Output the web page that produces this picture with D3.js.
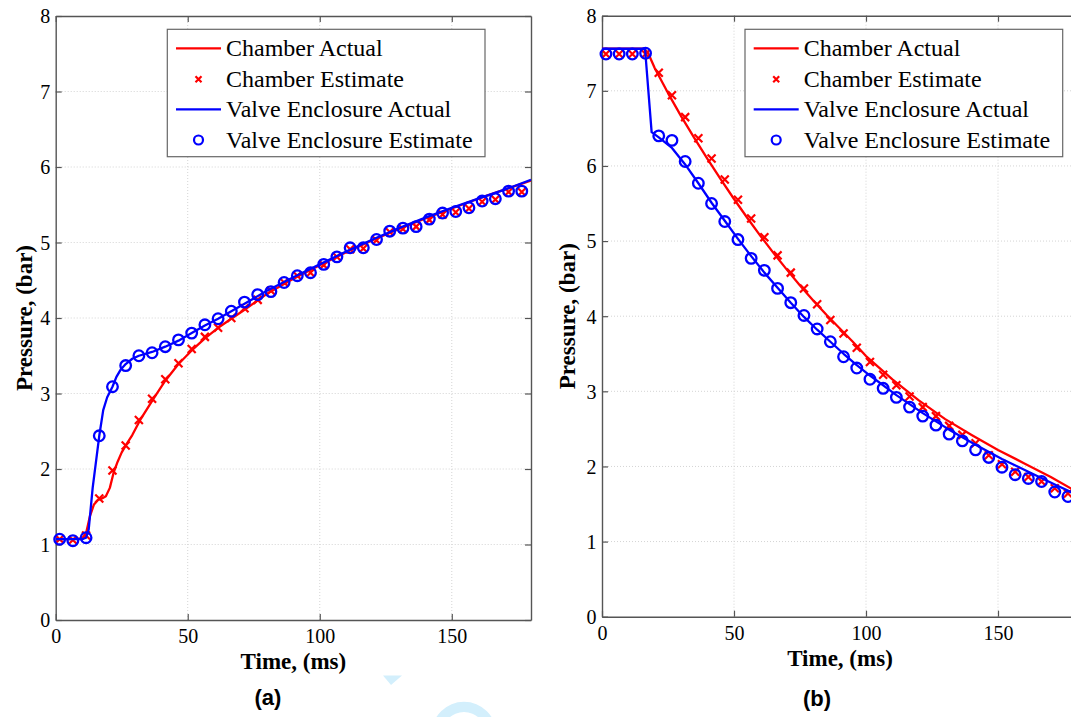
<!DOCTYPE html>
<html>
<head>
<meta charset="utf-8">
<script src="https://cdn.jsdelivr.net/npm/d3@7"></script>
<style>
  html, body { margin: 0; padding: 0; background: #fff; }
  svg { display: block; }
</style>
</head>
<body>
<svg id="fig" width="1071" height="717"></svg>
<script>
// Sample instants of the estimator output (ms)
const estTime = [1.5, 6.5, 11.5, 16.5, 21.5, 26.5, 31.5, 36.5, 41.5, 46.5, 51.5, 56.5,
  61.5, 66.5, 71.5, 76.5, 81.5, 86.5, 91.5, 96.5, 101.5, 106.5, 111.5, 116.5,
  121.5, 126.5, 131.5, 136.5, 141.5, 146.5, 151.5, 156.5, 161.5, 166.5, 171.5, 176.5];

// (a) filling
const chamberEstA = [1.07, 1.06, 1.12, 1.61, 1.98, 2.31, 2.65, 2.93, 3.19, 3.40, 3.59, 3.75,
  3.87, 4.00, 4.13, 4.24, 4.36, 4.47, 4.56, 4.60, 4.70, 4.81, 4.91, 4.92,
  5.03, 5.14, 5.18, 5.21, 5.30, 5.37, 5.40, 5.45, 5.54, 5.57, 5.67, 5.67];
const valveEstA = [1.07, 1.05, 1.09, 2.44, 3.09, 3.37, 3.50, 3.54, 3.62, 3.71, 3.80, 3.91,
  3.99, 4.09, 4.21, 4.31, 4.35, 4.47, 4.56, 4.60, 4.71, 4.81, 4.93, 4.93,
  5.04, 5.15, 5.19, 5.21, 5.31, 5.39, 5.41, 5.46, 5.55, 5.58, 5.68, 5.68];
const chamberActTimeA = [0, 5, 10, 11.5, 13, 14.5, 16, 17.5, 19, 20.5, 22, 23.5, 25, 27, 29, 32, 37,
  41.5, 46.5, 51.5, 56.5, 61.5, 66.5, 71.5, 80, 90, 100, 110, 120, 130, 140, 150, 160, 170, 180];
const chamberActA = [1.07, 1.07, 1.08, 1.15, 1.38, 1.53, 1.59, 1.61, 1.64, 1.75, 1.96, 2.10, 2.22, 2.34, 2.45, 2.65, 2.93,
  3.17, 3.39, 3.57, 3.73, 3.87, 3.99, 4.11, 4.32, 4.52, 4.70, 4.87, 5.03, 5.18, 5.32, 5.45, 5.58, 5.70, 5.82];
const valveActTimeA = [0, 5, 10, 11.5, 12.5, 14, 16.5, 18, 19.5, 21.5, 23, 24.5, 26.5, 29, 31.5, 36.5,
  41.5, 46.5, 51.5, 56.5, 61.5, 66.5, 71.5, 80, 90, 100, 110, 120, 130, 140, 150, 160, 170, 180];
const valveActA = [1.07, 1.07, 1.07, 1.09, 1.20, 1.75, 2.44, 2.78, 2.95, 3.09, 3.22, 3.31, 3.39, 3.46, 3.50, 3.55,
  3.62, 3.70, 3.80, 3.90, 3.99, 4.09, 4.19, 4.36, 4.54, 4.71, 4.88, 5.04, 5.19, 5.33, 5.46, 5.58, 5.70, 5.83];

// (b) venting
const chamberEstB = [7.49, 7.49, 7.49, 7.49, 7.24, 6.94, 6.65, 6.37, 6.10, 5.82, 5.55, 5.30,
  5.05, 4.81, 4.58, 4.37, 4.16, 3.95, 3.77, 3.58, 3.39, 3.22, 3.08, 2.93,
  2.79, 2.67, 2.54, 2.42, 2.31, 2.15, 2.03, 1.93, 1.86, 1.80, 1.71, 1.64];
const valveEstB = [7.49, 7.49, 7.49, 7.50, 6.40, 6.34, 6.06, 5.77, 5.50, 5.26, 5.02, 4.77,
  4.61, 4.37, 4.18, 4.01, 3.83, 3.66, 3.46, 3.31, 3.16, 3.04, 2.92, 2.79,
  2.67, 2.55, 2.43, 2.34, 2.22, 2.12, 1.99, 1.89, 1.84, 1.80, 1.66, 1.60];
const chamberActTimeB = [0, 10, 16, 17.5, 20, 25, 30, 35, 40, 45, 50, 55, 60, 65, 70, 75, 80, 85, 90, 95,
  100, 110, 120, 130, 140, 150, 160, 170, 180];
const chamberActB = [7.56, 7.56, 7.56, 7.50, 7.30, 6.97, 6.66, 6.37, 6.09, 5.82, 5.56, 5.31, 5.07, 4.84, 4.62, 4.41, 4.21, 4.02, 3.84, 3.66,
  3.47, 3.16, 2.88, 2.63, 2.42, 2.22, 2.04, 1.86, 1.66];
const valveActTimeB = [0, 10, 16.3, 18.8, 21.5, 26.5, 31.5, 36.5, 41.5, 46.5, 51.5, 56.5, 61.5, 66.5, 71.5, 76.5,
  81.5, 86.5, 91.5, 96.5, 101.5, 111.5, 121.5, 131.5, 141.5, 151.5, 161.5, 171.5, 180];
const valveActB = [7.56, 7.56, 7.56, 6.45, 6.38, 6.24, 6.02, 5.77, 5.51, 5.27, 5.03, 4.80, 4.58, 4.38, 4.18, 3.99,
  3.82, 3.66, 3.50, 3.35, 3.21, 2.95, 2.71, 2.49, 2.29, 2.10, 1.93, 1.76, 1.62];

const xTicks = [0, 50, 100, 150];
const yTicks = [0, 1, 2, 3, 4, 5, 6, 7, 8];
const legendLabels = ["Chamber Actual", "Chamber Estimate", "Valve Enclosure Actual", "Valve Enclosure Estimate"];
const xTitle = "Time, (ms)";
const yTitle = "Pressure, (bar)";
const panelLabels = ["(a)", "(b)"];

const RED = "#ff0000", BLUE = "#0000ff", FRAME = "#555555";
const SERIF = "'Liberation Serif', 'Times New Roman', serif";
const svg = d3.select("#fig");

// Faint watermark fragments behind the figure
const wm = svg.append("g").attr("fill", "#d3effc");
svg.append("clipPath").attr("id", "wmclip").append("rect")
  .attr("x", 360).attr("y", 675.5).attr("width", 200).attr("height", 60);
wm.append("path").attr("clip-path", "url(#wmclip)")
  .attr("transform", "translate(448.5,657.7)")
  .attr("d", d3.arc().innerRadius(22).outerRadius(29.6).startAngle(0).endAngle(2 * Math.PI)());
wm.append("path").attr("d", "M383,675.5 L402,675.5 L391,685 Z");
wm.append("path")
  .attr("transform", "translate(464,734.1)")
  .attr("d", d3.arc().innerRadius(22.1).outerRadius(32.4).startAngle(-Math.PI / 2).endAngle(Math.PI / 2)());

function crossPath(s) {
  return `M${-s},${-s}L${s},${s}M${-s},${s}L${s},${-s}`;
}

function panel(cfg) {
  const { x0, x1, y0, y1, xDomain, id } = cfg;
  const x = d3.scaleLinear().domain(xDomain).range([x0, x1]);
  const y = d3.scaleLinear().domain([0, 8]).range([y0, y1]);
  const g = svg.append("g");

  g.append("rect").attr("x", x0).attr("y", y1).attr("width", x1 - x0).attr("height", y0 - y1).attr("fill", "#fff");

  // dotted grid
  const grid = g.append("g").attr("stroke", "#d4d4d4").attr("stroke-width", 1).attr("stroke-dasharray", "1,2");
  grid.selectAll("line.gx").data(xTicks.filter(v => v > 0)).join("line")
    .attr("x1", d => x(d)).attr("x2", d => x(d)).attr("y1", y0).attr("y2", y1);
  grid.selectAll("line.gy").data(yTicks.filter(v => v > 0 && v < 8)).join("line")
    .attr("x1", x0).attr("x2", x1).attr("y1", d => y(d)).attr("y2", d => y(d));

  // axes with inward ticks on all four sides
  const tk = 6;
  const bottom = g.append("g").attr("transform", `translate(0,${y0})`)
    .call(d3.axisBottom(x).tickValues(xTicks).tickSizeInner(-tk).tickSizeOuter(0));
  const top = g.append("g").attr("transform", `translate(0,${y1})`)
    .call(d3.axisTop(x).tickValues(xTicks).tickSizeInner(-tk).tickSizeOuter(0).tickFormat(""));
  const left = g.append("g").attr("transform", `translate(${x0},0)`)
    .call(d3.axisLeft(y).tickValues(yTicks).tickSizeInner(-tk).tickSizeOuter(0));
  const right = g.append("g").attr("transform", `translate(${x1},0)`)
    .call(d3.axisRight(y).tickValues(yTicks).tickSizeInner(-tk).tickSizeOuter(0).tickFormat(""));
  [bottom, top, left, right].forEach(a => {
    a.select(".domain").attr("stroke", FRAME).attr("stroke-width", 1.4);
    a.selectAll(".tick line").attr("stroke", FRAME).attr("stroke-width", 1.2);
    a.attr("font-family", SERIF).attr("font-size", 20);
    a.selectAll(".tick text").attr("font-family", SERIF).attr("font-size", 20).attr("fill", "#000");
  });
  bottom.selectAll(".tick text").attr("y", 23).attr("dy", null);
  left.selectAll(".tick text").attr("x", -5.5).attr("dy", "0.34em");

  // data
  const clipId = "clip" + id;
  svg.append("clipPath").attr("id", clipId).append("rect")
    .attr("x", x0).attr("y", y1).attr("width", x1 - x0).attr("height", y0 - y1);
  const line = d3.line().x(d => x(d[0])).y(d => y(d[1]));
  const data = g.append("g");
  data.append("path").datum(d3.zip(cfg.chamberActTime, cfg.chamberAct))
    .attr("clip-path", `url(#${clipId})`)
    .attr("d", line).attr("fill", "none").attr("stroke", RED).attr("stroke-width", 2.3).attr("stroke-linejoin", "round");
  data.selectAll("path.cx").data(d3.zip(estTime, cfg.chamberEst)).join("path")
    .attr("class", "cx")
    .attr("transform", d => `translate(${x(d[0])},${y(d[1])})`)
    .attr("d", crossPath(4)).attr("stroke", RED).attr("stroke-width", 2.2).attr("fill", "none");
  data.append("path").datum(d3.zip(cfg.valveActTime, cfg.valveAct))
    .attr("clip-path", `url(#${clipId})`)
    .attr("d", line).attr("fill", "none").attr("stroke", BLUE).attr("stroke-width", 2.3).attr("stroke-linejoin", "round");
  data.selectAll("circle").data(d3.zip(estTime, cfg.valveEst)).join("circle")
    .attr("cx", d => x(d[0])).attr("cy", d => y(d[1])).attr("r", 5.3)
    .attr("fill", "none").attr("stroke", BLUE).attr("stroke-width", 2.3);

  // axis titles
  g.append("text").attr("x", cfg.xTitleX).attr("y", cfg.xTitleY).attr("text-anchor", "middle")
    .attr("font-family", SERIF).attr("font-weight", "bold").attr("font-size", 23)
    .text(xTitle);
  g.append("text").attr("transform", `translate(${cfg.yTitleX},${(y0 + y1) / 2}) rotate(-90)`)
    .attr("text-anchor", "middle").attr("dy", "0.35em")
    .attr("font-family", SERIF).attr("font-weight", "bold").attr("font-size", 23)
    .text(yTitle);

  // legend
  const L = cfg.legend;
  const lg = g.append("g");
  lg.append("rect").attr("x", L.x).attr("y", L.y).attr("width", 317.7).attr("height", 127.4)
    .attr("fill", "#fff").attr("stroke", "#666").attr("stroke-width", 1.2);
  const rows = [19, 50, 80, 110.7];
  const kinds = ["rline", "cross", "bline", "circle"];
  kinds.forEach((k, i) => {
    const cy = L.y + rows[i];
    const sx0 = L.x + 8.7, sx1 = L.x + 53.7, mx = (sx0 + sx1) / 2;
    if (k === "rline" || k === "bline") {
      lg.append("line").attr("x1", sx0).attr("x2", sx1).attr("y1", cy).attr("y2", cy)
        .attr("stroke", k === "rline" ? RED : BLUE).attr("stroke-width", 2.3);
    } else if (k === "cross") {
      lg.append("path").attr("transform", `translate(${mx},${cy})`).attr("d", crossPath(3))
        .attr("stroke", RED).attr("stroke-width", 2.2);
    } else {
      lg.append("circle").attr("cx", mx).attr("cy", cy).attr("r", 4.5)
        .attr("fill", "none").attr("stroke", BLUE).attr("stroke-width", 2.2);
    }
    lg.append("text").attr("x", L.x + 58.7).attr("y", cy).attr("dy", "0.34em")
      .attr("font-family", SERIF).attr("font-size", 24).attr("fill", "#000")
      .text(legendLabels[i]);
  });

  // panel caption
  svg.append("text").attr("x", cfg.capX).attr("y", cfg.capY).attr("text-anchor", "middle")
    .attr("font-family", "'Liberation Sans', Arial, sans-serif").attr("font-weight", "bold").attr("font-size", 22)
    .text(cfg.caption);
}

panel({
  id: "a", x0: 55.7, x1: 531, y0: 620, y1: 16, xDomain: [0, 180],
  chamberEst: chamberEstA, valveEst: valveEstA,
  chamberActTime: chamberActTimeA, chamberAct: chamberActA,
  valveActTime: valveActTimeA, valveAct: valveActA,
  xTitleX: 293.4, xTitleY: 669, yTitleX: 24,
  legend: { x: 167.3, y: 29.3 },
  caption: panelLabels[0], capX: 268, capY: 705
});
panel({
  id: "b", x0: 602, x1: 1077.2, y0: 616.7, y1: 15.7, xDomain: [0, 180],
  chamberEst: chamberEstB, valveEst: valveEstB,
  chamberActTime: chamberActTimeB, chamberAct: chamberActB,
  valveActTime: valveActTimeB, valveAct: valveActB,
  xTitleX: 840, xTitleY: 666, yTitleX: 567,
  legend: { x: 745, y: 29.3 },
  caption: panelLabels[1], capX: 817, capY: 706
});
</script>
</body>
</html>
